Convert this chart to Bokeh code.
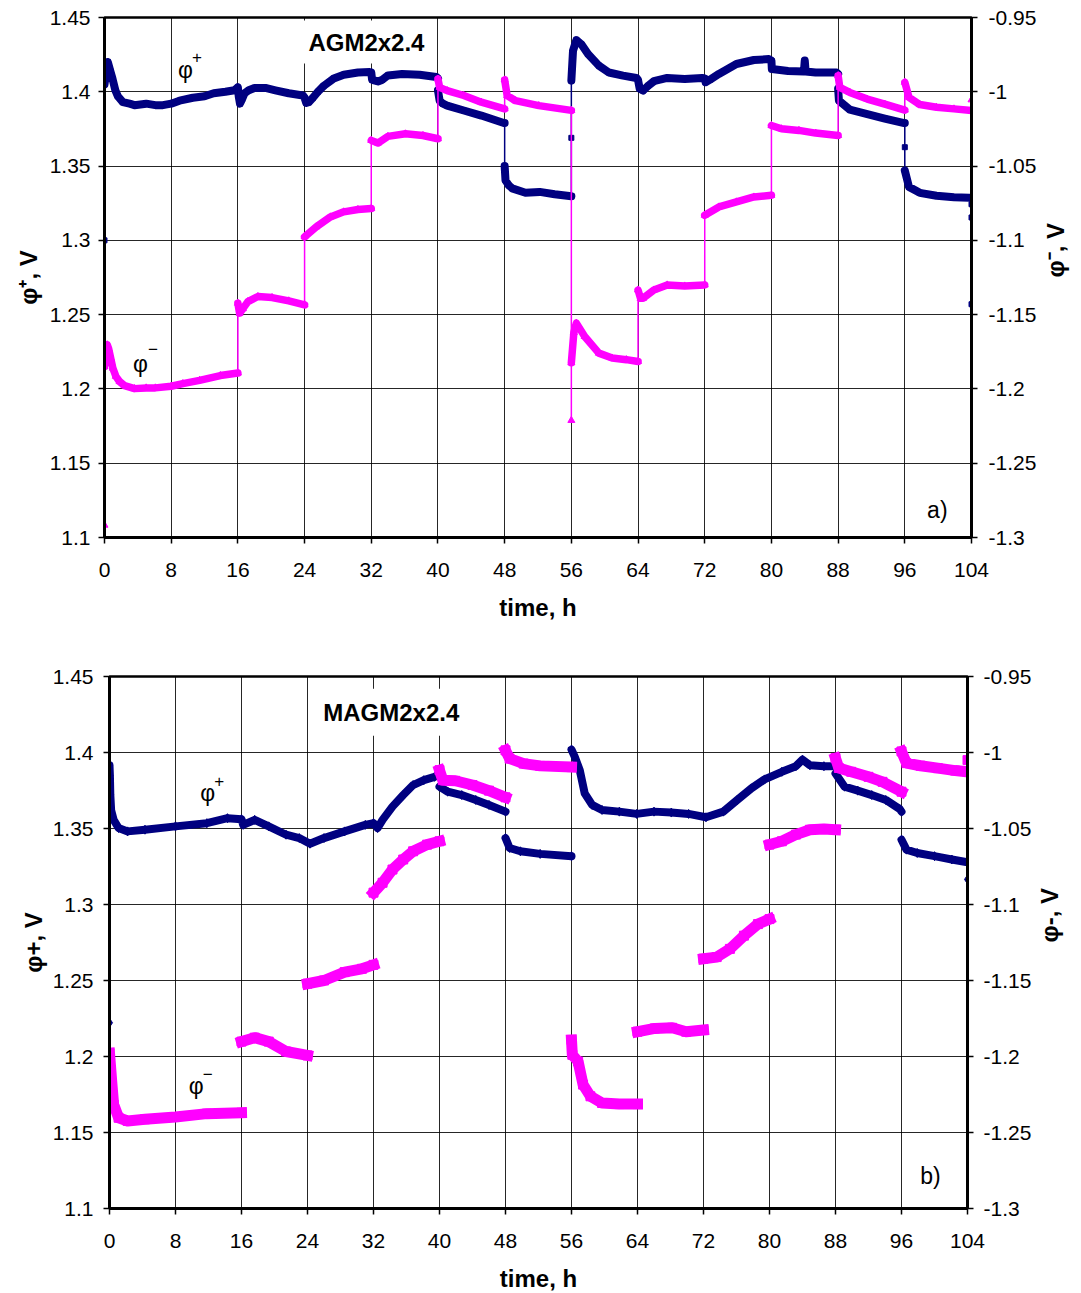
import math
import numpy as np
from bokeh.plotting import figure
from bokeh.models import Range1d, LinearAxis, FixedTicker, Label
from bokeh.layouts import column
from bokeh.embed import file_html
from bokeh.resources import INLINE

FONT = "Liberation Sans"
BLUE = "#000080"
MAGENTA = "#FF00FF"

# ---------------- axes ----------------
time_ticks = [0, 8, 16, 24, 32, 40, 48, 56, 64, 72, 80, 88, 96, 104]
time_tick_labels = ["0", "8", "16", "24", "32", "40", "48", "56", "64", "72", "80", "88", "96", "104"]
left_ticks = [1.1, 1.15, 1.2, 1.25, 1.3, 1.35, 1.4, 1.45]
left_tick_labels = ["1.1", "1.15", "1.2", "1.25", "1.3", "1.35", "1.4", "1.45"]
right_ticks = [-1.3, -1.25, -1.2, -1.15, -1.1, -1.05, -1.0, -0.95]
right_tick_labels = ["-1.3", "-1.25", "-1.2", "-1.15", "-1.1", "-1.05", "-1", "-0.95"]

# ---------------- a) AGM2x2.4 ----------------
# phi+ (left axis), time in h; repeated time = instantaneous jump
a_pos_t = [0, 0, 0.2, 0.4, 0.7, 0.95, 1.3, 1.6, 2.2, 3.0, 3.6, 5.0, 6.1, 7.0, 8.0, 9.0, 10.6, 12.0,
           13.1, 14.5, 15.6, 16.0, 16.1, 16.25, 16.5, 16.8, 17.3, 18.0, 19.3, 20.5, 22.1, 23.8, 24.0,
           24.2, 24.5, 25.0, 25.6, 26.3, 27.5, 28.7, 30.4, 31.8, 32.0, 32.1, 32.8, 33.3, 34.0, 35.7,
           37.8, 39.8, 40.0, 40.0, 40.2, 40.6, 41.1, 43.1, 45.2, 47.9, 48.0, 48.0, 48.1, 48.5, 48.9,
           50.5, 52.2, 54.0, 56.0, 56.0, 56.0, 56.2, 56.6, 57.2, 58.0, 59.3, 60.5, 62.2, 63.8, 64.0,
           64.2, 64.6, 65.2, 65.9, 67.5, 69.6, 71.7, 72.0, 72.1, 72.6, 73.7, 75.8, 77.9, 79.7, 80.0,
           80.05, 82.0, 83.9, 84.0, 84.1, 85.3, 87.8, 88.0, 88.0, 88.1, 89.4, 91.5, 93.6, 95.8, 96.0,
           96.0, 96.0, 96.5, 97.8, 99.8, 101.9, 103.7, 104.0, 104.0, 104.0, 104.0]
a_pos_v = [1.300, 1.405, 1.413, 1.420, 1.414, 1.409, 1.401, 1.397, 1.393, 1.392, 1.391, 1.392, 1.391,
           1.391, 1.392, 1.394, 1.396, 1.397, 1.399, 1.400, 1.401, 1.403, 1.397, 1.392, 1.395, 1.399,
           1.401, 1.4026, 1.4026, 1.401, 1.399, 1.3975, 1.396, 1.3925, 1.393, 1.396, 1.400, 1.404,
           1.409, 1.4115, 1.413, 1.4133, 1.413, 1.408, 1.407, 1.408, 1.411, 1.412, 1.4115, 1.410,
           1.409, 1.401, 1.394, 1.392, 1.3907, 1.3874, 1.384, 1.379, 1.379, 1.350, 1.3404, 1.337,
           1.335, 1.332, 1.3326, 1.331, 1.3297, 1.369, 1.4075, 1.4276, 1.4348, 1.432, 1.4254, 1.4176,
           1.413, 1.4109, 1.4093, 1.408, 1.402, 1.4008, 1.404, 1.4071, 1.4093, 1.4086, 1.4093, 1.409,
           1.4064, 1.408, 1.412, 1.4187, 1.4214, 1.422, 1.421, 1.4153, 1.414, 1.4137, 1.421, 1.4137,
           1.413, 1.413, 1.412, 1.402, 1.394, 1.388, 1.385, 1.382, 1.379, 1.379, 1.3627, 1.347, 1.336,
           1.332, 1.330, 1.329, 1.3287, 1.3287, 1.3243, 1.3154, 1.257]
# phi- (right axis)
a_neg_t = [0, 0, 0.15, 0.33, 0.5, 0.74, 1.0, 1.36, 1.8, 2.4, 3.6, 5.0, 6.1, 8.0, 9.4, 11.4, 13.9, 16.0,
           16.0, 16.2, 16.6, 17.2, 18.4, 20.1, 22.1, 24.0, 24.0, 25.4, 27.1, 28.7, 30.4, 32.0, 32.0,
           32.8, 34.0, 36.1, 38.2, 40.0, 40.0, 40.2, 41.1, 43.1, 45.2, 48.0, 48.0, 48.3, 49.3, 52.1,
           56.0, 56.0, 56.0, 56.3, 56.6, 57.6, 59.3, 60.9, 62.6, 64.0, 64.0, 64.3, 64.6, 65.9, 67.5,
           69.6, 72.0, 72.0, 73.7, 75.8, 77.9, 80.0, 80.0, 81.2, 83.3, 85.3, 88.0, 88.0, 88.2, 89.4,
           91.5, 93.6, 96.0, 96.0, 96.5, 97.8, 99.8, 101.9, 104.0, 104.0]
a_neg_v = [-1.2917, -1.185, -1.178, -1.1703, -1.173, -1.1792, -1.186, -1.1915, -1.195, -1.1978,
           -1.1998, -1.1993, -1.1993, -1.1982, -1.1964, -1.1942, -1.191, -1.1893, -1.1423, -1.149,
           -1.146, -1.1412, -1.1378, -1.1385, -1.1407, -1.1434, -1.0976, -1.0909, -1.0842, -1.0808,
           -1.0792, -1.0786, -1.0327, -1.0345, -1.030, -1.0283, -1.0294, -1.0316, -0.9914, -0.997,
           -0.9992, -1.0025, -1.007, -1.0115, -0.992, -1.0025, -1.006, -1.0093, -1.0125, -1.2212,
           -1.1824, -1.162, -1.1557, -1.1647, -1.1759, -1.1792, -1.1803, -1.1815, -1.1334, -1.139,
           -1.139, -1.1334, -1.130, -1.1307, -1.130, -1.0831, -1.0775, -1.0741, -1.0708, -1.0696,
           -1.0227, -1.0249, -1.026, -1.0278, -1.0294, -0.9891, -0.997, -1.0004, -1.0049, -1.0083,
           -1.0123, -0.9936, -1.0037, -1.0086, -1.0104, -1.0115, -1.0126, -1.0054]

# ---------------- b) MAGM2x2.4 ----------------
b_pos_t = [0, 0, 0.05, 0.1, 0.2, 0.5, 1.1, 2.2, 4.3, 8.0, 11.8, 14.3, 16.0, 16.2, 17.6, 19.3, 21.4,
           23.0, 24.3, 26.0, 28.5, 31.0, 32.0, 32.5, 33.1, 34.3, 35.6, 36.8, 38.1, 39.4, 40.0, 40.0,
           41.0, 42.7, 44.4, 46.0, 48.0, 48.0, 48.5, 49.8, 52.2, 56.0, 56.0, 56.4, 57.0, 57.6, 58.5,
           59.7, 61.8, 63.9, 66.0, 68.1, 70.2, 72.3, 74.4, 76.1, 77.8, 79.4, 81.5, 83.2, 84.0, 84.9,
           86.6, 88.0, 88.0, 89.1, 90.7, 92.4, 94.1, 95.8, 96.0, 96.0, 96.6, 97.9, 100.0, 102.1,
           104.0, 104.0]
b_pos_v = [1.2222, 1.3916, 1.385, 1.372, 1.362, 1.3557, 1.3503, 1.3481, 1.3492, 1.3514, 1.3535,
           1.3568, 1.3561, 1.3524, 1.3557, 1.3514, 1.3459, 1.3437, 1.340, 1.3437, 1.3481, 1.3524,
           1.3535, 1.3503, 1.3557, 1.3644, 1.372, 1.3786, 1.3818, 1.384, 1.3851, 1.3775, 1.3742,
           1.372, 1.3688, 1.3655, 1.3611, 1.3437, 1.3372, 1.335, 1.3333, 1.3318, 1.4019, 1.3971,
           1.3884, 1.3731, 1.3655, 1.3622, 1.3611, 1.3596, 1.3611, 1.3605, 1.3596, 1.3574, 1.3611,
           1.3688, 1.3764, 1.3823, 1.3873, 1.391, 1.3953, 1.3916, 1.391, 1.391, 1.3862, 1.3775,
           1.3749, 1.372, 1.3688, 1.3627, 1.3611, 1.3426, 1.3361, 1.3339, 1.3318, 1.3296, 1.3278,
           1.3165]
b_neg_t = [0, 0.3, 0.5, 1.1, 2.2, 4.3, 8.0, 11.8, 16.0, 16.0, 17.6, 19.3, 21.4, 24.0, 24.0, 26.0,
           28.5, 30.6, 32.0, 32.0, 33.1, 34.3, 35.6, 36.8, 38.5, 40.0, 40.0, 40.4, 41.9, 44.0, 46.0,
           48.0, 48.0, 48.5, 50.2, 52.2, 56.0, 56.0, 56.1, 56.8, 57.4, 58.3, 59.7, 61.8, 64.0, 64.0,
           66.1, 68.2, 69.9, 72.0, 72.0, 73.6, 75.2, 76.9, 78.6, 80.0, 80.0, 81.5, 83.2, 84.9, 86.6,
           88.0, 88.0, 88.4, 89.9, 92.0, 93.7, 96.0, 96.0, 96.6, 98.3, 100.4, 102.5, 104.0, 104.0]
b_neg_v = [-1.1978, -1.2185, -1.2316, -1.2403, -1.2424, -1.2413, -1.2398, -1.2376, -1.237,
           -1.1902, -1.1876, -1.1902, -1.1967, -1.1993, -1.1521, -1.150, -1.1445, -1.1423, -1.1397,
           -1.0922, -1.0857, -1.077, -1.0704, -1.065, -1.0606, -1.0584, -1.0116, -1.0182, -1.0186,
           -1.0214, -1.0251, -1.0295, -0.9986, -1.004, -1.0073, -1.0088, -1.0096, -1.1891, -1.1989,
           -1.2033, -1.2185, -1.2262, -1.2306, -1.2313, -1.2313, -1.1837, -1.1815, -1.1811, -1.1837,
           -1.1826, -1.1357, -1.1346, -1.1292, -1.1205, -1.1129, -1.1096, -1.0606, -1.0584, -1.054,
           -1.0508, -1.0503, -1.0508, -1.0037, -1.0102, -1.0127, -1.016, -1.0193, -1.0258, -0.9993,
           -1.007, -1.0087, -1.0103, -1.0119, -1.0127, -1.005]


def broken(t, v):
    """Break the path wherever two consecutive readings share a time (instant jump)."""
    tt, vv = [], []
    for i in range(len(t)):
        if i > 0 and t[i] == t[i - 1]:
            tt.append(np.nan)
            vv.append(np.nan)
        tt.append(t[i])
        vv.append(v[i])
    return np.array(tt, dtype=float), np.array(vv, dtype=float)


def base_fig(frame_h, frame_w, bl, br, bt, bb, left_label, right_label,
             l_standoff, r_standoff, l_lab_standoff, r_lab_standoff):
    p = figure(frame_width=frame_w, frame_height=frame_h,
               x_range=Range1d(0, 104), y_range=Range1d(1.1, 1.45),
               output_backend="svg", toolbar_location=None,
               min_border_left=bl, min_border_right=br, min_border_top=bt, min_border_bottom=bb,
               background_fill_color="white", border_fill_color="white")
    p.extra_y_ranges = {"right": Range1d(-1.3, -0.95)}
    p.outline_line_color = "black"
    p.outline_line_width = 2.5

    ra = LinearAxis(y_range_name="right")
    p.add_layout(ra, "right")

    for ax in [p.xaxis[0], p.yaxis[0], ra]:
        ax.axis_line_color = "black"
        ax.axis_line_width = 3
        ax.major_tick_line_color = "black"
        ax.major_tick_line_width = 1.5
        ax.major_tick_in = 0
        ax.major_tick_out = 6
        ax.minor_tick_line_color = None
        ax.major_label_text_font = FONT
        ax.major_label_text_font_size = "21px"
        ax.major_label_text_color = "black"
        ax.axis_label_text_font = FONT
        ax.axis_label_text_font_size = "24px"
        ax.axis_label_text_font_style = "bold"
        ax.axis_label_text_color = "black"

    xa = p.xaxis[0]
    xa.ticker = FixedTicker(ticks=time_ticks)
    xa.major_label_overrides = dict(zip(time_ticks, time_tick_labels))
    xa.major_label_standoff = 19
    xa.axis_label = "time, h"
    xa.axis_label_standoff = 14

    ya = p.yaxis[0]
    ya.ticker = FixedTicker(ticks=left_ticks)
    ya.major_label_overrides = dict(zip(left_ticks, left_tick_labels))
    ya.major_label_standoff = l_standoff
    ya.axis_label = left_label
    ya.axis_label_standoff = l_lab_standoff

    ra.ticker = FixedTicker(ticks=right_ticks)
    ra.major_label_overrides = dict(zip(right_ticks, right_tick_labels))
    ra.major_label_standoff = r_standoff
    ra.axis_label = right_label
    ra.axis_label_standoff = r_lab_standoff
    if "axis_label_orientation" in LinearAxis.properties():
        ra.axis_label_orientation = math.pi / 2

    for g in [p.xgrid[0], p.ygrid[0]]:
        g.grid_line_color = "black"
        g.grid_line_width = 1
        g.grid_line_alpha = 0.85
    return p


def add_text(p, x, y, text, size, bold=False, align="center", boxed=False, pad=0):
    kw = dict(x=x, y=y, text=text, text_font=FONT, text_font_size=size,
              text_font_style="bold" if bold else "normal", text_align=align,
              text_baseline="middle", text_color="black")
    if boxed:
        kw.update(background_fill_color="white", padding=pad)
    p.add_layout(Label(**kw))


# ---------------- figure a ----------------
pa = base_fig(520, 867, 104, 104, 17, 84, "\u03c6\u207a, V", "\u03c6\u207b, V", 8, 11, 5, 16)

pa.line(a_pos_t, a_pos_v, line_color=BLUE, line_width=1.5)
tt, vv = broken(a_pos_t, a_pos_v)
pa.line(tt, vv, line_color=BLUE, line_width=8, line_join="round", line_cap="round")
pa.scatter(a_pos_t, a_pos_v, marker="square", size=5, fill_color=BLUE, line_color=BLUE)

pa.line(a_neg_t, a_neg_v, line_color=MAGENTA, line_width=1.5, y_range_name="right")
tt, vv = broken(a_neg_t, a_neg_v)
pa.line(tt, vv, line_color=MAGENTA, line_width=7.5, line_join="round", line_cap="round",
        y_range_name="right")
pa.scatter(a_neg_t, a_neg_v, marker="triangle", size=7, fill_color=MAGENTA, line_color=MAGENTA,
           y_range_name="right")

add_text(pa, 23.5, 1.4335, "AGM2x2.4", "24px", bold=True, align="left", boxed=True, pad=8)
add_text(pa, 9.7, 1.415, "\u03c6", "23px")
add_text(pa, 11.1, 1.4235, "+", "17px")
add_text(pa, 4.3, 1.2171, "\u03c6", "23px")
add_text(pa, 5.8, 1.2268, "\u2212", "17px")
add_text(pa, 99.9, 1.1188, "a)", "23px")

# ---------------- figure b ----------------
pb = base_fig(532, 858, 104, 104, 53, 70, "\u03c6+, V", "\u03c6-, V", 10, 10, 3, 15)
pb.margin = (0, 0, 0, 5)

tt, vv = broken(b_pos_t, b_pos_v)
pb.line(tt, vv, line_color=BLUE, line_width=8, line_join="round", line_cap="round")
pb.scatter(b_pos_t, b_pos_v, marker="diamond", size=9, fill_color=BLUE, line_color=BLUE)

tt, vv = broken(b_neg_t, b_neg_v)
pb.line(tt, vv, line_color=MAGENTA, line_width=11, line_join="round", line_cap="square",
        y_range_name="right")
pb.scatter(b_neg_t, b_neg_v, marker="square", size=9, fill_color=MAGENTA, line_color=MAGENTA,
           y_range_name="right")

add_text(pb, 24.7, 1.4264, "MAGM2x2.4", "24px", bold=True, align="left", boxed=True, pad=10)
add_text(pb, 11.9, 1.3733, "\u03c6", "23px")
add_text(pb, 13.3, 1.3815, "+", "17px")
add_text(pb, 10.5, 1.1806, "\u03c6", "23px")
add_text(pb, 11.9, 1.1885, "\u2212", "17px")
add_text(pb, 99.5, 1.1216, "b)", "23px")

layout = column(pa, pb)
open("out.html", "w").write(file_html(layout, INLINE))
